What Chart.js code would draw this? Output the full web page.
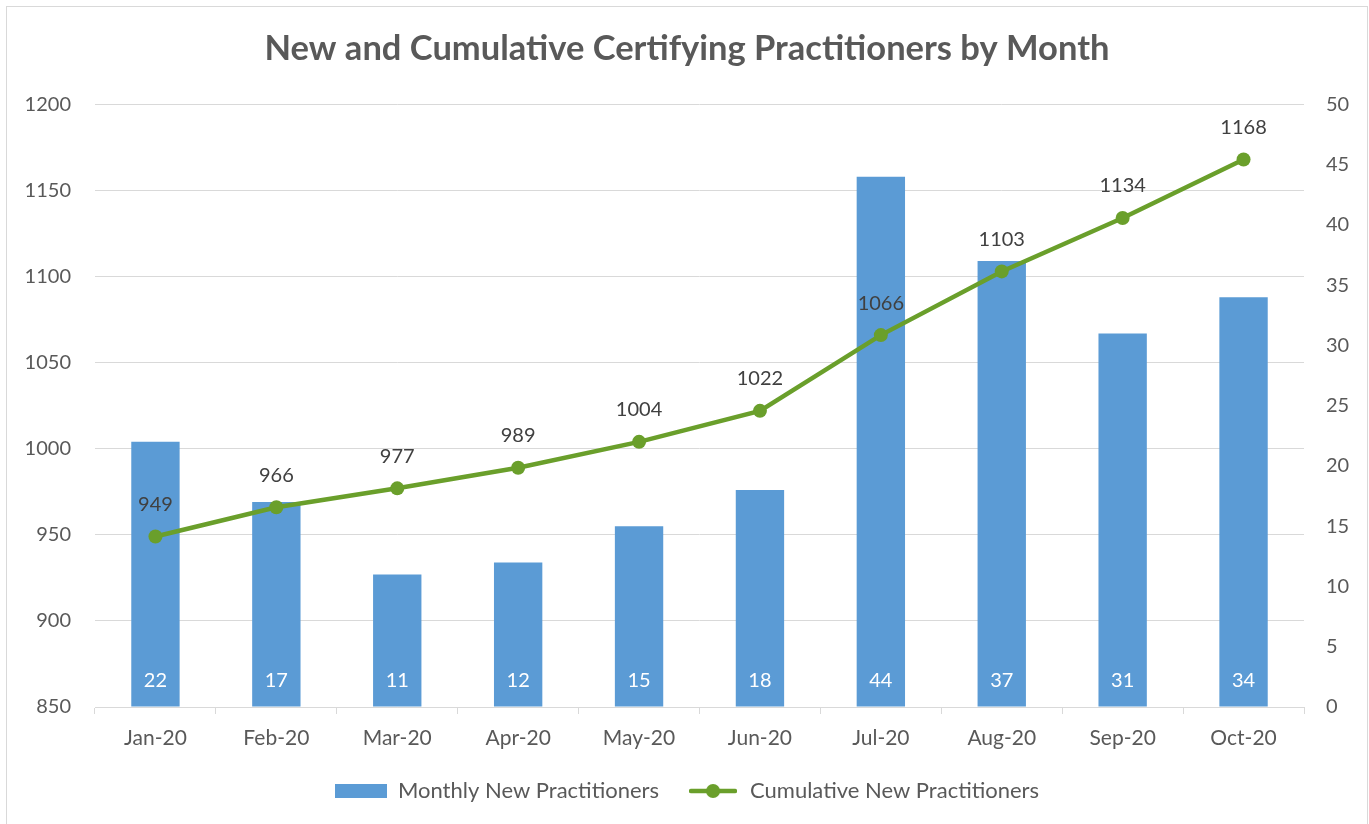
<!DOCTYPE html>
<html>
<head>
<meta charset="utf-8">
<script src="https://cdn.jsdelivr.net/npm/chart.js@4.4.0/dist/chart.umd.min.js"></script>
<style>
  html, body { margin: 0; padding: 0; background: #fff; overflow: hidden; }
  #frame { position: absolute; left: 6px; top: 6px; width: 1360px; height: 830px; border: 1px solid #d9d9d9; background: #fff; }
  #wrap { position: absolute; left: 0; top: 0; width: 1369px; height: 824px; }
</style>
</head>
<body>
<div id="frame"></div>
<div id="wrap"><canvas id="chart"></canvas></div>
<script>
// chart data
const months = ["Jan-20", "Feb-20", "Mar-20", "Apr-20", "May-20", "Jun-20", "Jul-20", "Aug-20", "Sep-20", "Oct-20"];
const monthlyNew = [22, 17, 11, 12, 15, 18, 44, 37, 31, 34];
const cumulativeNew = [949, 966, 977, 989, 1004, 1022, 1066, 1103, 1134, 1168];
const leftAxis = [850, 1200, 50];   // min, max, step
const rightAxis = [0, 50, 5];

const barColor = "#5B9BD5";
const lineColor = "#6A9F2B";
const fontFamily = "Lato, 'Open Sans', sans-serif";

// little images for the legend markers
function barMarker() {
  var c = document.createElement("canvas");
  c.width = 52; c.height = 14;
  var g = c.getContext("2d");
  g.fillStyle = barColor;
  g.fillRect(0, 0, 52, 14);
  return c;
}
function lineMarker() {
  var c = document.createElement("canvas");
  c.width = 48; c.height = 16;
  var g = c.getContext("2d");
  g.strokeStyle = lineColor;
  g.lineWidth = 4.5;
  g.lineCap = "round";
  g.beginPath(); g.moveTo(2, 8); g.lineTo(46, 8); g.stroke();
  g.fillStyle = lineColor;
  g.beginPath(); g.arc(24, 8, 7, 0, Math.PI * 2); g.fill();
  return c;
}

// value labels on bars and points
const valueLabels = {
  id: "valueLabels",
  afterDatasetsDraw(chart) {
    const ctx = chart.ctx;
    ctx.save();
    ctx.font = "20px " + fontFamily;
    ctx.textAlign = "center";
    ctx.textBaseline = "middle";
    chart.data.datasets.forEach(function (ds, i) {
      const meta = chart.getDatasetMeta(i);
      meta.data.forEach(function (el, j) {
        if (ds.type === "bar") {
          ctx.fillStyle = "#ffffff";
          ctx.fillText(ds.data[j], el.x, el.base - 26);
        } else {
          ctx.fillStyle = "#404040";
          ctx.fillText(ds.data[j], el.x, el.y - 32);
        }
      });
    });
    ctx.restore();
  }
};

const chart = new Chart(document.getElementById("chart").getContext("2d"), {
  data: {
    labels: months,
    datasets: [
      {
        type: "line",
        label: "Cumulative New Practitioners",
        data: cumulativeNew,
        yAxisID: "yLeft",
        borderColor: lineColor,
        backgroundColor: lineColor,
        borderWidth: 4.5,
        pointRadius: 7,
        pointBackgroundColor: lineColor,
        pointBorderWidth: 0,
        tension: 0,
        order: 0
      },
      {
        type: "bar",
        label: "Monthly New Practitioners",
        data: monthlyNew,
        yAxisID: "yRight",
        backgroundColor: barColor,
        categoryPercentage: 1,
        barPercentage: 0.4,
        order: 1
      }
    ]
  },
  options: {
    responsive: true,
    maintainAspectRatio: false,
    animation: false,
    layout: { autoPadding: false, padding: { top: 20, left: 25, right: 20, bottom: 12 } },
    plugins: {
      title: {
        display: true,
        text: "New and Cumulative Certifying Practitioners by Month",
        color: "#595959",
        font: { family: fontFamily, size: 34.5, weight: "bold" },
        padding: { top: 8, bottom: 35 }
      },
      legend: {
        position: "bottom",
        labels: {
          usePointStyle: true,
          pointStyleWidth: 52,
          padding: 28,
          color: "#595959",
          font: { family: fontFamily, size: 22 },
          generateLabels: function (ch) {
            return [
              { text: "Monthly New Practitioners", pointStyle: barMarker(), fontColor: "#595959", datasetIndex: 1, lineWidth: 0 },
              { text: "Cumulative New Practitioners", pointStyle: lineMarker(), fontColor: "#595959", datasetIndex: 0, lineWidth: 0 }
            ];
          }
        }
      },
      tooltip: { enabled: false }
    },
    scales: {
      x: {
        offset: true,
        grid: { display: true, drawOnChartArea: false, drawTicks: true, tickLength: 7, color: "#d9d9d9", offset: true },
        border: { display: true, color: "#d9d9d9", width: 1 },
        ticks: { color: "#595959", font: { family: fontFamily, size: 21 }, padding: 12 },
        afterFit: function (scale) {
          scale.paddingLeft = 0;
          scale.paddingRight = 0;
          scale.height = 45;
        }
      },
      yLeft: {
        position: "left",
        min: leftAxis[0],
        max: leftAxis[1],
        ticks: {
          stepSize: leftAxis[2], color: "#595959", font: { family: fontFamily, size: 20 }, padding: 24,
          callback: function (v) { return String(v); }
        },
        grid: { color: "#d9d9d9", drawTicks: false },
        border: { display: false },
        afterFit: function (scale) { scale.width = 70; }
      },
      yRight: {
        position: "right",
        min: rightAxis[0],
        max: rightAxis[1],
        ticks: {
          stepSize: rightAxis[2], color: "#595959", font: { family: fontFamily, size: 20 }, padding: 22,
          callback: function (v) { return String(v); }
        },
        grid: { drawOnChartArea: false, drawTicks: false },
        border: { display: false },
        afterFit: function (scale) { scale.width = 45; }
      }
    }
  },
  plugins: [valueLabels]
});
</script>
</body>
</html>
